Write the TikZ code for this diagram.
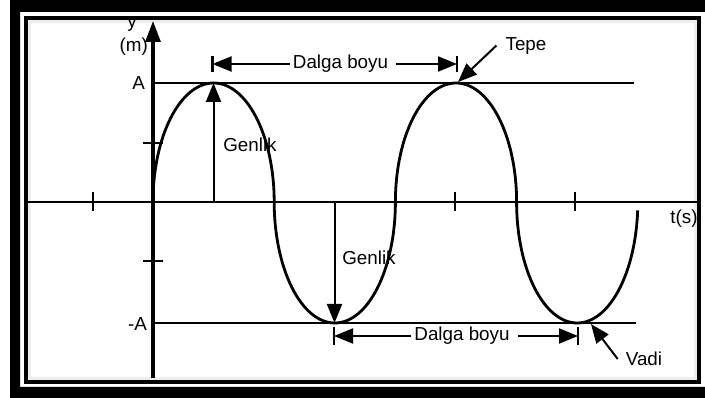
\documentclass[tikz,border=0pt]{standalone}
\usepackage{fontspec}
\setmainfont{Liberation Sans}
\usetikzlibrary{arrows.meta,calc}

\begin{document}
\begin{tikzpicture}[
  x=1pt,y=-1pt,
  font=\fontsize{18.8}{22}\selectfont,
  ax/.style ={line width=3.2pt},
  ln/.style ={line width=2pt},
  wv/.style ={line width=2.8pt},
  tk/.style ={line width=2.8pt},
  ar/.style ={-{Triangle[length=19pt,width=15pt]},line width=2pt},
  lb/.style ={inner sep=3pt},
  dl/.style ={inner xsep=3pt,inner ysep=1pt}
]
\useasboundingbox (0,0) rectangle (705,398);

% ======== frame
\fill[even odd rule] (10,0) rectangle (705,398) (20,12) rectangle (705,387);
\draw[line width=4pt] (26,18) rectangle (699,382);
\draw[black!7,line width=3pt] (29.5,21.5) rectangle (695.5,378.5);

% ======== axes
\coordinate (O)    at (153,202);
\coordinate (ytop) at (153,21);
\coordinate (ybot) at (153,378);
\coordinate (xl)   at (28,202);
\coordinate (xr)   at (697,202);
\draw[ln] (xl) -- (xr);
\draw[ax,-{Triangle[length=21pt,width=15pt]}] (ybot) -- (ytop);
\foreach \ty in {143,261} \draw[tk] (143,\ty) -- (163,\ty);
\foreach \tx in {93,455,575} \draw[tk] (\tx,192) -- (\tx,211);

\node[lb]             (ly)  at (132,24)  {y};
\node[lb,anchor=east] (lm)  at (151,47)  {(m)};
\node[lb,anchor=east] (lA)  at (148,83)  {A};
\node[lb,anchor=east] (lmA) at (150,324) {-A};
\node[lb]             (lt)  at (684,219) {t(s)};

% ======== amplitude lines
\coordinate (Al)  at (153,83);
\coordinate (Ar)  at (634,83);
\coordinate (mAl) at (153,323);
\coordinate (mAr) at (636,323);
\draw[ln] (Al) -- (Ar);
\draw[ln] (mAl) -- (mAr);

% ======== wave
\draw[wv] (O) arc[start angle=180,end angle=0,x radius=60.6pt,y radius=119pt]
  arc[start angle=180,end angle=360,x radius=60.6pt,y radius=121pt]
  arc[start angle=180,end angle=0,x radius=60.6pt,y radius=119pt]
  arc[start angle=180,end angle=356,x radius=60.6pt,y radius=121pt];

% ======== amplitude arrows
\coordinate (g1)  at (213.5,202);
\coordinate (pk1) at (213.5,83);
\coordinate (g2)  at (334.5,202);
\coordinate (tr1) at (334.5,323);
\draw[ar] (g1) -- (pk1);
\draw[ar] (g2) -- (tr1);
\node[lb] (gen1) at (250,145) {Genlik};
\node[lb] (gen2) at (369,258) {Genlik};

% ======== wavelength, top
\coordinate (d1l) at (212.5,64);
\coordinate (d1r) at (457,64);
\node[dl] (dal1) at (340.5,64) {Dalga boyu};
\draw[ar] (dal1.west) -- (d1l);
\draw[ar] ([xshift=5pt]dal1.east) -- (d1r);
\draw[tk] ([yshift=-8pt]d1l) -- ([yshift=8pt]d1l);
\draw[tk] ([yshift=-8pt]d1r) -- ([yshift=8pt]d1r);

% ======== wavelength, bottom
\coordinate (d2l) at (334,336);
\coordinate (d2r) at (578,336);
\node[dl] (dal2) at (462,336) {Dalga boyu};
\draw[ar] (dal2.west) -- (d2l);
\draw[ar] ([xshift=5pt]dal2.east) -- (d2r);
\draw[tk] ([yshift=-9pt]d2l) -- ([yshift=9pt]d2l);
\draw[tk] ([yshift=-9pt]d2r) -- ([yshift=9pt]d2r);

% ======== crest and trough
\coordinate (pk2) at (458,82);
\coordinate (tr2) at (591,324);
\node[lb] (tepe) at (526,45.5) {Tepe};
\node[lb] (vadi) at (644,359)  {Vadi};
\draw[ar] ([xshift=-6pt]tepe.west) -- (pk2);
\draw[ar] ([xshift=-5pt]vadi.west) -- (tr2);
\end{tikzpicture}
\end{document}
